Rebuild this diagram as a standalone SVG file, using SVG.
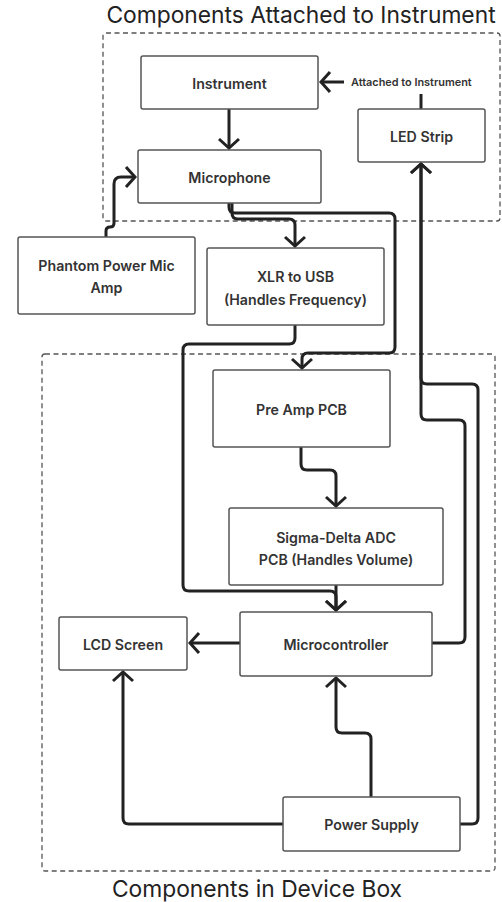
<svg xmlns="http://www.w3.org/2000/svg" width="502" height="902" viewBox="0 0 502 902">
<style>
.title{font-family:Inter,"Liberation Sans",sans-serif;font-size:22.8px;fill:#222;text-anchor:middle}
.box{fill:#fff;stroke:#555;stroke-width:1.5}
.lbl{font-family:Inter,"Liberation Sans",sans-serif;font-size:14.2px;font-weight:600;fill:#333;text-anchor:middle;dominant-baseline:central}
.small{font-family:Inter,"Liberation Sans",sans-serif;font-size:10.9px;font-weight:600;fill:#333;dominant-baseline:central}
.dash{fill:none;stroke:#555;stroke-width:1.3;stroke-dasharray:5 3.5}
.c{fill:none;stroke:#222;stroke-width:3;stroke-linejoin:round}
</style>
<defs>
<marker id="ah" markerUnits="userSpaceOnUse" viewBox="-12 -12 14 24" refX="0" refY="0" markerWidth="14" markerHeight="24" orient="auto">
<path d="M-9,-10 L0,0 L-9,10" fill="none" stroke="#222" stroke-width="3" stroke-linejoin="miter"/>
</marker>
</defs>
<g id="group-top">
<text class="title" x="301" y="23">Components Attached to Instrument</text>
<rect class="dash" x="103" y="33" width="397" height="188" rx="3"/>
</g>
<g id="group-bottom">
<rect class="dash" x="42" y="354" width="453" height="517" rx="3"/>
<text class="title" x="257" y="897">Components in Device Box</text>
</g>
<g id="connectors">
<path class="c" d="M229,109 V148" marker-end="url(#ah)"/>
<path class="c" d="M344,82 H321" marker-end="url(#ah)"/>
<path class="c" d="M421,94 V109"/>
<path class="c" d="M106,237 V231 Q106,227 110,227 Q114,227 114,223 V184 Q114,177 121,177 H135" marker-end="url(#ah)"/>
<path class="c" d="M232,203 V213 Q232,219 238,219 H289 Q295,219 295,225 V246" marker-end="url(#ah)"/>
<path class="c" d="M229,203 V207 Q229,213 235,213 H389 Q395,213 395,219 V347 Q395,353 389,353 H308 Q302,353 302,359 V368" marker-end="url(#ah)"/>
<path class="c" d="M295,325 V338 Q295,344 289,344 H189 Q183,344 183,350 V585 Q183,591 189,591 H330 Q336,591 336,597 V610" marker-end="url(#ah)"/>
<path class="c" d="M301,447 V464 Q301,470 307,470 H330 Q336,470 336,476 V506" marker-end="url(#ah)"/>
<path class="c" d="M336,585 V610" marker-end="url(#ah)"/>
<path class="c" d="M240,643 H190" marker-end="url(#ah)"/>
<path class="c" d="M432,643 H459 Q465,643 465,637 V426 Q465,420 459,420 H427 Q421,420 421,414 V164" marker-end="url(#ah)"/>
<path class="c" d="M460,824 H472 Q478,824 478,818 V390 Q478,384 472,384 H427 Q421,384 421,378 V164" marker-end="url(#ah)"/>
<path class="c" d="M283,824 H129 Q123,824 123,818 V672" marker-end="url(#ah)"/>
<path class="c" d="M371,797 V739 Q371,733 365,733 H342 Q336,733 336,727 V678" marker-end="url(#ah)"/>
</g>
<g id="attached-label">
<text class="small" x="351" y="82">Attached to Instrument</text>
</g>
<g id="instrument">
<rect class="box" x="141" y="56" width="177" height="53" rx="2"/>
<text class="lbl" x="229.5" y="83">Instrument</text>
</g>
<g id="led-strip">
<rect class="box" x="358" y="109" width="127" height="53" rx="2"/>
<text class="lbl" x="421.5" y="136">LED Strip</text>
</g>
<g id="microphone">
<rect class="box" x="138" y="150" width="183" height="53" rx="2"/>
<text class="lbl" x="229.5" y="177">Microphone</text>
</g>
<g id="phantom">
<rect class="box" x="18" y="237" width="177" height="77" rx="2"/>
<text class="lbl" x="106.5" y="265">Phantom Power Mic</text>
<text class="lbl" x="106.5" y="287">Amp</text>
</g>
<g id="xlr">
<rect class="box" x="207" y="248" width="177" height="77" rx="2"/>
<text class="lbl" x="295.5" y="276">XLR to USB</text>
<text class="lbl" x="295.5" y="299">(Handles Frequency)</text>
</g>
<g id="preamp">
<rect class="box" x="213" y="370" width="177" height="77" rx="2"/>
<text class="lbl" x="301.5" y="409">Pre Amp PCB</text>
</g>
<g id="sigma">
<rect class="box" x="229" y="508" width="214" height="77" rx="2"/>
<text class="lbl" x="336" y="537">Sigma-Delta ADC</text>
<text class="lbl" x="336" y="559">PCB (Handles Volume)</text>
</g>
<g id="microcontroller">
<rect class="box" x="240" y="612" width="192" height="64" rx="2"/>
<text class="lbl" x="336" y="644">Microcontroller</text>
</g>
<g id="lcd">
<rect class="box" x="59" y="617" width="128" height="53" rx="2"/>
<text class="lbl" x="123" y="644">LCD Screen</text>
</g>
<g id="power">
<rect class="box" x="283" y="797" width="177" height="54" rx="2"/>
<text class="lbl" x="371.5" y="824">Power Supply</text>
</g>
</svg>
